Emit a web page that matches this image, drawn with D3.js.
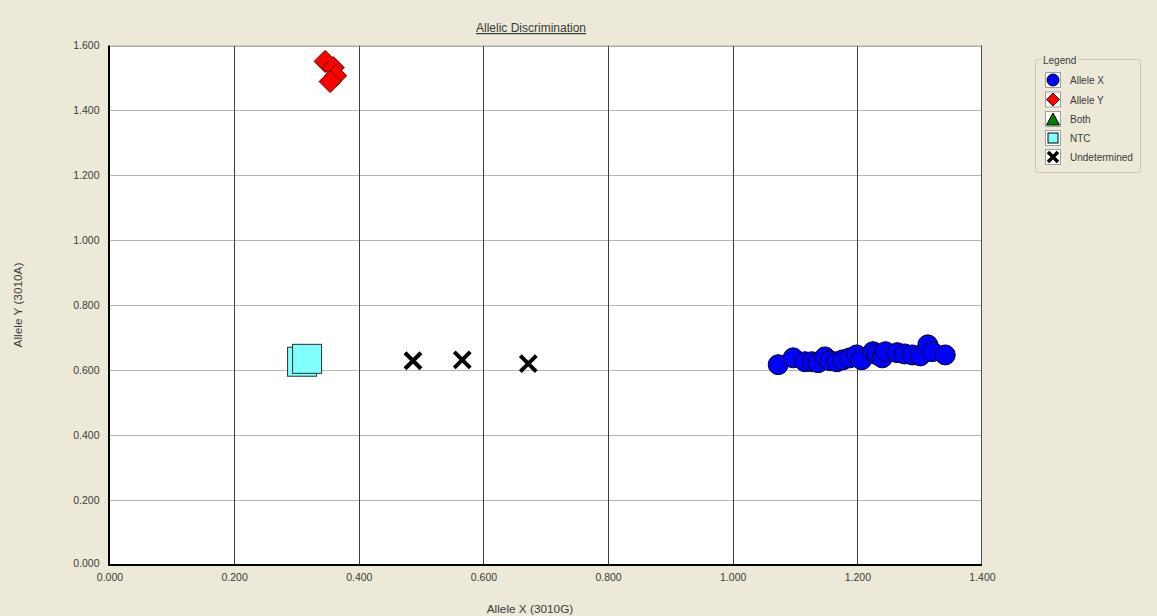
<!DOCTYPE html>
<html><head><meta charset="utf-8">
<script src="https://cdn.jsdelivr.net/npm/d3@7"></script>
<style>
html,body{margin:0;padding:0;background:#ECE9D8;}
svg{display:block;}
text{font-family:"Liberation Sans",Arial,sans-serif;}
</style></head>
<body>
<svg id="chart" width="1157" height="616"></svg>
<script>
const chartTitle = "Allelic Discrimination";
const xTitle = "Allele X (3010G)";
const yTitle = "Allele Y (3010A)";
const xTicks = [0, 0.2, 0.4, 0.6, 0.8, 1.0, 1.2, 1.4];
const yTicks = [0, 0.2, 0.4, 0.6, 0.8, 1.0, 1.2, 1.4, 1.6];
const legendLabels = ["Allele X", "Allele Y", "Both", "NTC", "Undetermined"];

// Allele X (blue circles): [x, y]
const alleleX = [
  [1.073,0.617],[1.097,0.638],[1.116,0.626],[1.127,0.626],[1.137,0.623],
  [1.148,0.641],[1.156,0.629],[1.167,0.626],[1.177,0.632],[1.188,0.638],
  [1.199,0.647],[1.207,0.632],[1.225,0.657],[1.232,0.647],[1.240,0.638],
  [1.245,0.657],[1.264,0.654],[1.276,0.650],[1.288,0.647],[1.301,0.644],
  [1.313,0.678],[1.320,0.657],[1.341,0.647]
];
// Allele Y (red diamonds)
const alleleY = [[0.346,1.551],[0.359,1.532],[0.363,1.507],[0.354,1.489]];
// Both (none)
const both = [];
// NTC (cyan squares)
const ntc = [[0.309,0.626],[0.317,0.635]];
// Undetermined (black crosses)
const undetermined = [[0.487,0.629],[0.566,0.632],[0.672,0.620]];

const svg = d3.select("#chart");
const L = 109.5, R = 982, T = 45.5, B = 565;
const x = d3.scaleLinear().domain([0, 1.4]).range([L, R]);
const y = d3.scaleLinear().domain([0, 1.6]).range([B, T]);
const fmt = d3.format(".3f");
const txtCol = "#3a3a3a";

// plot background
svg.append("rect").attr("x", L).attr("y", T).attr("width", R - L).attr("height", B - T)
  .attr("fill", "#ffffff");

// horizontal gridlines
svg.append("g").selectAll("line").data(yTicks.slice(1)).join("line")
  .attr("x1", L).attr("x2", R)
  .attr("y1", d => Math.round(y(d)) + 0.5).attr("y2", d => Math.round(y(d)) + 0.5)
  .attr("stroke", "#b8b6ac").attr("stroke-width", 1);
// vertical gridlines
svg.append("g").selectAll("line").data(xTicks.slice(1, -1)).join("line")
  .attr("y1", T).attr("y2", B)
  .attr("x1", d => Math.round(x(d)) + 0.5).attr("x2", d => Math.round(x(d)) + 0.5)
  .attr("stroke", "#3c3c3c").attr("stroke-width", 1);

// frame
svg.append("line").attr("x1", L).attr("x2", R).attr("y1", T + 0.5).attr("y2", T + 0.5)
  .attr("stroke", "#a8a8a0");
svg.append("line").attr("x1", R - 0.5).attr("x2", R - 0.5).attr("y1", T).attr("y2", B)
  .attr("stroke", "#505050");
svg.append("line").attr("x1", L - 0.5).attr("x2", L - 0.5).attr("y1", T).attr("y2", B + 1)
  .attr("stroke", "#000").attr("stroke-width", 2);
svg.append("line").attr("x1", L - 1.5).attr("x2", R).attr("y1", B).attr("y2", B)
  .attr("stroke", "#000").attr("stroke-width", 2);

// axes via d3 axis generators (no tick lines)
const xAxis = d3.axisBottom(x).tickValues(xTicks).tickFormat(fmt).tickSize(0).tickPadding(9);
const gx = svg.append("g").attr("transform", `translate(0,${B})`).call(xAxis);
gx.select(".domain").remove();
gx.selectAll("text").attr("fill", txtCol).style("font-size", "10.5px")
  .style("font-family", '"Liberation Sans",Arial,sans-serif');

const yAxis = d3.axisLeft(y).tickValues(yTicks).tickFormat(fmt).tickSize(0).tickPadding(10);
const gy = svg.append("g").attr("transform", `translate(${L},0)`).call(yAxis);
gy.select(".domain").remove();
gy.selectAll("text").attr("fill", txtCol).style("font-size", "10.5px")
  .style("font-family", '"Liberation Sans",Arial,sans-serif');
gy.selectAll(".tick").filter(d => d === 0).select("text").attr("dy", "0.1em");

// titles
svg.append("text").attr("x", 531).attr("y", 32).attr("text-anchor", "middle")
  .attr("fill", txtCol).style("font-size", "12px").style("text-decoration", "underline")
  .text(chartTitle);
svg.append("text").attr("x", 530).attr("y", 613).attr("text-anchor", "middle")
  .attr("fill", txtCol).style("font-size", "11.8px").text(xTitle);
svg.append("text").attr("transform", "translate(22,305) rotate(-90)").attr("text-anchor", "middle")
  .attr("fill", txtCol).style("font-size", "11.8px").text(yTitle);

// clip
svg.append("clipPath").attr("id", "plotclip").append("rect")
  .attr("x", L).attr("y", T).attr("width", R - L).attr("height", B - T);
const plot = svg.append("g").attr("clip-path", "url(#plotclip)");

// NTC squares
const sq = 29;
plot.append("g").selectAll("rect").data(ntc).join("rect")
  .attr("x", d => x(d[0]) - sq / 2).attr("y", d => y(d[1]) - sq / 2)
  .attr("width", sq).attr("height", sq)
  .attr("fill", "#80ffff").attr("stroke", "#303030").attr("stroke-width", 1);

// Undetermined crosses
const cr = 8;
plot.append("g").selectAll("path").data(undetermined).join("path")
  .attr("d", d => {
    const cx = x(d[0]), cy = y(d[1]);
    return `M${cx - cr},${cy - cr}L${cx + cr},${cy + cr}M${cx - cr},${cy + cr}L${cx + cr},${cy - cr}`;
  })
  .attr("stroke", "#000").attr("stroke-width", 4).attr("fill", "none");

// Allele Y diamonds
const dr = 11;
plot.append("g").selectAll("path").data(alleleY).join("path")
  .attr("d", d => {
    const cx = x(d[0]), cy = y(d[1]);
    return `M${cx},${cy - dr}L${cx + dr},${cy}L${cx},${cy + dr}L${cx - dr},${cy}Z`;
  })
  .attr("fill", "#ff0000").attr("stroke", "#5a0000").attr("stroke-width", 1);

// Allele X circles
plot.append("g").selectAll("circle").data(alleleX).join("circle")
  .attr("cx", d => x(d[0])).attr("cy", d => y(d[1])).attr("r", 10)
  .attr("fill", "#0000ff").attr("stroke", "#000020").attr("stroke-width", 1);

// Legend
const lg = svg.append("g");
const lx = 1035.5, ly = 59.5, lw = 105, lh = 113;
lg.append("rect").attr("x", lx).attr("y", ly).attr("width", lw).attr("height", lh)
  .attr("fill", "none").attr("stroke", "#c8c5b6").attr("rx", 2);
lg.append("rect").attr("x", 1041).attr("y", 54).attr("width", 37).attr("height", 12).attr("fill", "#ECE9D8");
lg.append("text").attr("x", 1043).attr("y", 64).attr("fill", txtCol).style("font-size", "10px").text("Legend");

const rowY = [80, 99.5, 119, 138, 157];
legendLabels.forEach((lab, i) => {
  const cx = 1053, cy = rowY[i];
  const g = lg.append("g");
  g.append("rect").attr("x", cx - 7.5).attr("y", cy - 7.5).attr("width", 15).attr("height", 15)
    .attr("fill", "#ffffff").attr("stroke", "#a0a0a0");
  if (i === 0) g.append("circle").attr("cx", cx).attr("cy", cy).attr("r", 6)
    .attr("fill", "#0000ff").attr("stroke", "#000");
  if (i === 1) g.append("path").attr("d", `M${cx},${cy - 6.5}L${cx + 6.5},${cy}L${cx},${cy + 6.5}L${cx - 6.5},${cy}Z`)
    .attr("fill", "#ff0000").attr("stroke", "#400");
  if (i === 2) g.append("path").attr("d", `M${cx},${cy - 6}L${cx + 6.5},${cy + 6}L${cx - 6.5},${cy + 6}Z`)
    .attr("fill", "#008000").attr("stroke", "#000");
  if (i === 3) g.append("rect").attr("x", cx - 5).attr("y", cy - 5).attr("width", 10).attr("height", 10)
    .attr("fill", "#80ffff").attr("stroke", "#000");
  if (i === 4) g.append("path").attr("d", `M${cx - 5},${cy - 5}L${cx + 5},${cy + 5}M${cx - 5},${cy + 5}L${cx + 5},${cy - 5}`)
    .attr("stroke", "#000").attr("stroke-width", 3.5);
  lg.append("text").attr("x", 1070).attr("y", cy + 4).attr("fill", txtCol)
    .style("font-size", "10px").text(lab);
});
</script>
</body></html>
